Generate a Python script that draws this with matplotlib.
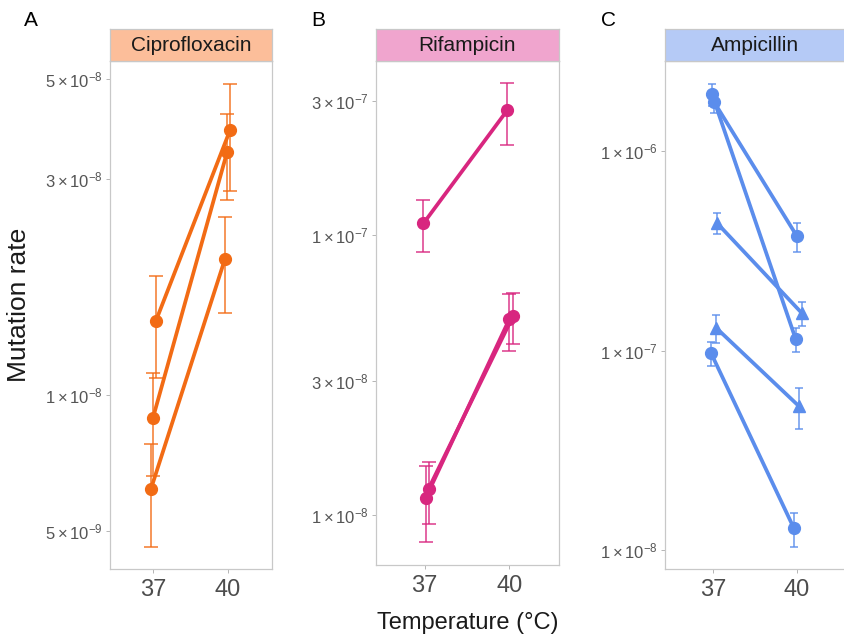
import numpy as np
import matplotlib.pyplot as plt

plt.rcParams['font.family'] = ['Liberation Sans', 'DejaVu Sans']
plt.rcParams['mathtext.fontset'] = 'custom'
plt.rcParams['mathtext.rm'] = 'Liberation Sans'
plt.rcParams['mathtext.it'] = 'Liberation Sans:italic'
plt.rcParams['mathtext.bf'] = 'Liberation Sans:bold'

temps = [37, 40]

# Ciprofloxacin (3 strains)
cip_r37 = [1.46e-8, 8.9e-9, 6.2e-9]
cip_e37 = [0.37e-8, 0.23e-8, 0.16e-8]
cip_r40 = [3.85e-8, 3.44e-8, 2.0e-8]
cip_e40 = [1.03e-8, 0.74e-8, 0.48e-8]
cip_shape = ['o', 'o', 'o']

# Rifampicin
rif_r37 = [1.10e-7, 1.24e-8, 1.15e-8]
rif_e37 = [0.23e-7, 0.31e-8, 0.35e-8]
rif_r40 = [2.79e-7, 5.15e-8, 5.0e-8]
rif_e40 = [0.69e-7, 1.07e-8, 1.15e-8]
rif_shape = ['o', 'o', 'o']

# Ampicillin
amp_r37 = [1.93e-6, 1.76e-6, 4.36e-7, 1.30e-7, 9.7e-8]
amp_e37 = [0.24e-6, 0.21e-6, 0.53e-7, 0.21e-7, 1.35e-8]
amp_r40 = [1.14e-7, 3.75e-7, 1.54e-7, 5.27e-8, 1.29e-8]
amp_e40 = [0.16e-7, 0.62e-7, 0.21e-7, 1.22e-8, 0.25e-8]
amp_shape = ['o', 'o', '^', '^', 'o']

# horizontal jitter of each point (37, 40)
cip_jit = [(0.12, 0.08), (0.0, -0.04), (-0.08, -0.12)]
rif_jit = [(-0.04, -0.07), (0.14, 0.14), (0.04, 0.0)]
amp_jit = [(-0.04, -0.04), (0.04, 0.0), (0.14, 0.18), (0.11, 0.07), (-0.07, -0.11)]

W, H = 844, 641
fig = plt.figure(figsize=(W / 100, H / 100), dpi=100)


def box(l, t, r, b):
    return [l / W, 1 - b / H, (r - l) / W, (b - t) / H]


def sci(v):
    e = int(np.floor(np.log10(v) + 1e-9))
    m = int(round(v / 10 ** e))
    return r'$%d\times10^{%d}$' % (m, e)


def panel(l, r, b, name, letter, fill, col, r37, e37, r40, e40, shapes, jit,
          ylim, yticks, cap):
    ax = fig.add_axes(box(l, 61, r, b))
    for i in range(len(r37)):
        xs = [temps[0] + jit[i][0], temps[1] + jit[i][1]]
        ys = [r37[i], r40[i]]
        ax.errorbar(xs, ys, yerr=[e37[i], e40[i]], fmt='none', ecolor=col,
                    elinewidth=1.1, capsize=cap, capthick=1.1, alpha=0.9, zorder=2)
        ax.plot(xs, ys, color=col, lw=2.7, zorder=3, solid_capstyle='round')
        ax.plot(xs, ys, ls='none', marker=shapes[i], ms=8.5, color=col, zorder=4)
    ax.set_yscale('log')
    ax.set_ylim(*ylim)
    ax.set_yticks(yticks)
    ax.set_yticklabels([sci(v) for v in yticks])
    ax.yaxis.set_minor_locator(plt.NullLocator())
    ax.set_xlim(35.28, 41.76)
    ax.set_xticks(temps)
    ax.set_xticklabels([str(t) for t in temps])
    for s in ax.spines.values():
        s.set_color('#C8C8C8')
        s.set_linewidth(0.9)
    ax.tick_params(axis='y', length=3, width=0.6, color='#AAAAAA',
                   labelcolor='#555555', labelsize=12, pad=2)
    ax.tick_params(axis='x', length=3, width=0.6, color='#AAAAAA',
                   labelcolor='#4D4D4D', labelsize=17, pad=4)

    st = fig.add_axes(box(l, 29, r, 61))
    st.set_facecolor(fill)
    st.set_xticks([])
    st.set_yticks([])
    for s in st.spines.values():
        s.set_color('#C8C8C8')
        s.set_linewidth(0.9)
    st.text(0.5, 0.48, name, ha='center', va='center', fontsize=15,
            color='#1A1A1A', transform=st.transAxes)
    fig.text(letter[1] / W, 1 - 21 / H, letter[0], ha='center', va='center',
             fontsize=15)
    return ax


panel(110, 272, 569, 'Ciprofloxacin', ('A', 31), '#FCBE9A', '#F26B14',
      cip_r37, cip_e37, cip_r40, cip_e40, cip_shape, cip_jit,
      (4.12e-9, 5.48e-8), [5e-9, 1e-8, 3e-8, 5e-8], 4.7)
panel(376, 559, 565, 'Rifampicin', ('B', 318), '#F0A5CE', '#D8267F',
      rif_r37, rif_e37, rif_r40, rif_e40, rif_shape, rif_jit,
      (6.63e-9, 4.18e-7), [1e-8, 3e-8, 1e-7, 3e-7], 4.7)
panel(665, 846, 569, 'Ampicillin', ('C', 608), '#B5CAF6', '#5B8DEC',
      amp_r37, amp_e37, amp_r40, amp_e40, amp_shape, amp_jit,
      (8.03e-9, 2.83e-6), [1e-8, 1e-7, 1e-6], 2.9)

fig.text(19 / W, 1 - 305 / H, 'Mutation rate', rotation=90, ha='center',
         va='center', fontsize=19, color='#1A1A1A')
fig.text(468 / W, 1 - 623 / H, 'Temperature (°C)', ha='center', va='center',
         fontsize=17, color='#1A1A1A')

fig.savefig('out.png', dpi=100)
